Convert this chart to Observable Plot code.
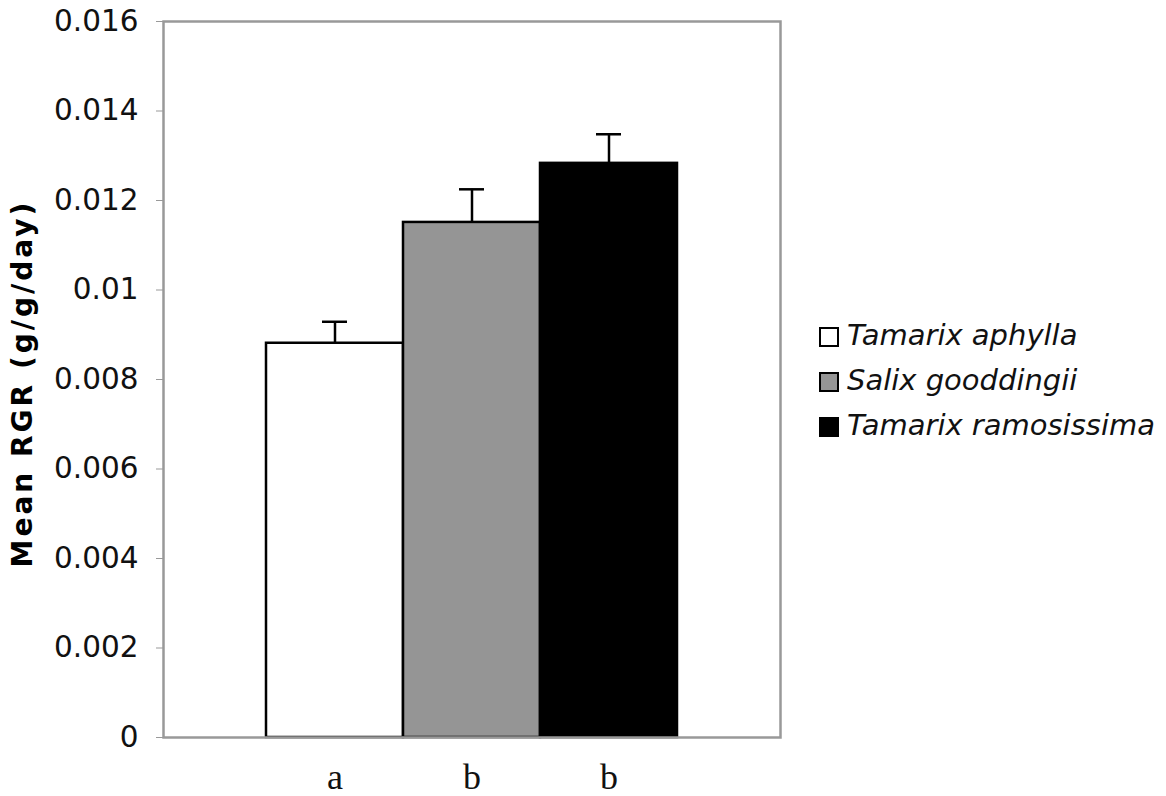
<!DOCTYPE html>
<html><head><meta charset="utf-8">
<script src="https://cdn.jsdelivr.net/npm/d3@7"></script>
<script src="https://cdn.jsdelivr.net/npm/@observablehq/plot@0.6"></script>
<style>
body{margin:0;background:#fff;}
#wrap{position:relative;width:1166px;height:796px;}
#legend{position:absolute;left:819px;top:312px;font-family:"DejaVu Sans";font-style:italic;font-size:29px;color:#111;}
.row{display:flex;align-items:center;height:45px;}
.sw{width:16px;height:16px;border:2px solid #000;margin-right:8px;margin-top:4px;}
</style></head><body><div id="wrap"><div id="legend"></div></div>
<script>
const species = ["Tamarix aphylla", "Salix gooddingii", "Tamarix ramosissima"];
const letters = ["a", "b", "b"];
const means = [0.00881, 0.01151, 0.01283];
const upper = [0.00929, 0.01225, 0.01348];
const fills = ["#ffffff", "#959595", "#000000"];
const yTicks = [0, 0.002, 0.004, 0.006, 0.008, 0.01, 0.012, 0.014, 0.016];
const yTitle = "Mean RGR (g/g/day)";

const data = species.map((s, i) => ({species: s, letter: letters[i], mean: means[i], upper: upper[i]}));

const chart = Plot.plot({
  width: 1166, height: 796,
  marginLeft: 163, marginRight: 386, marginTop: 21, marginBottom: 59,
  style: {fontFamily: "DejaVu Sans", background: "white", color: "#111"},
  x: {domain: species, paddingInner: 0, paddingOuter: 0.74, label: null},
  y: {domain: [0, 0.016], label: null},
  color: {domain: species, range: fills},
  marks: [
    Plot.barY(data, {x: "species", y: "mean", fill: "species", stroke: "#000", strokeWidth: 2.5}),
    Plot.ruleX(data, {x: "species", y1: "mean", y2: "upper", stroke: "#000", strokeWidth: 2.5}),
    Plot.tickY(data, {x: "species", y: "upper", stroke: "#000", strokeWidth: 2.5, insetLeft: 56, insetRight: 56}),
    Plot.frame({stroke: "#999", strokeWidth: 2.5}),
    Plot.axisY({ticks: yTicks, tickFormat: d => d === 0 ? "0" : String(+d.toFixed(3)),
      tickSize: 7, tickPadding: 18, stroke: "#999", fill: "#111", fontSize: 29.5, label: null}),
    Plot.axisX({tickSize: 0, tickPadding: 26, fontSize: 36, fontFamily: "Liberation Serif", fill: "#111",
      tickFormat: d => letters[species.indexOf(d)], label: null}),
    Plot.text([yTitle], {text: d => d, frameAnchor: "left", textAnchor: "middle", rotate: -90, dx: -140, dy: 4,
      fontSize: 28, fontWeight: "bold", fill: "#000"})
  ]
});
document.getElementById("wrap").prepend(chart);
d3.select(chart).selectAll("text").filter(function(){ return this.textContent === yTitle; })
  .style("letter-spacing", "3px");

const legend = d3.select("#legend");
species.forEach((s, i) => {
  const row = legend.append("div").attr("class", "row");
  row.append("div").attr("class", "sw").style("background", fills[i]);
  row.append("span").text(s);
});
</script>
</body></html>
